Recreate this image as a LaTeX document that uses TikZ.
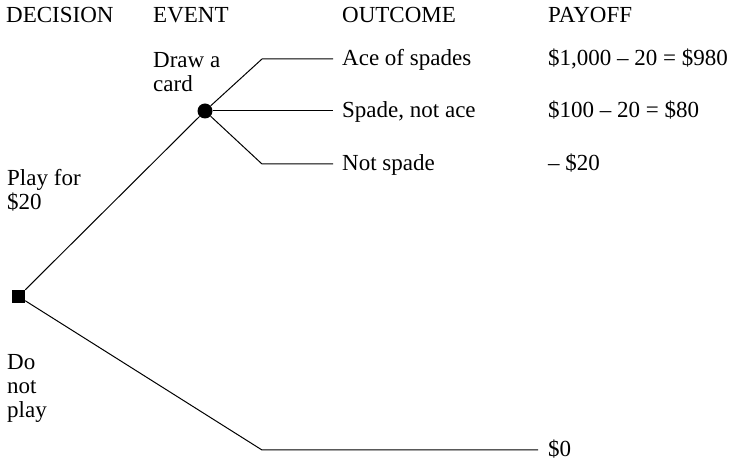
\documentclass[tikz,border=0pt]{standalone}
\usepackage{fontspec}
\setmainfont{Liberation Serif}
\usepackage{tikz}
\usetikzlibrary{calc}
\tikzset{
  txt/.style={font=\fontsize{23}{24}\selectfont,inner sep=0pt,anchor=base west},
  txtml/.style={font=\fontsize{23}{24}\selectfont,inner sep=0pt,anchor=north west,align=left},
  branch/.style={line width=1pt},
  decbox/.style={fill=black,minimum size=13pt,inner sep=0pt},
  chance/.style={circle,fill=black,minimum size=15pt,inner sep=0pt}
}

\begin{document}
\begin{tikzpicture}[x=1pt,y=-1pt]
\useasboundingbox (0,0) rectangle (740,462);
% column heads
\node[txt] (hdec) at (6,23) {DECISION};
\node[txt] (hevt) at (153,23) {EVENT};
\node[txt] (hout) at (342,23) {OUTCOME};
\node[txt] (hpay) at (548,23) {PAYOFF};
% nodes
\node[decbox] (dec) at (18.5,296.5) {};
\node[chance] (evt) at (205,111) {};
\node[txtml] (draw) at (153,52) {Draw a\\card};
\node[txtml] (play) at (7,169) {Play for\\\$20};
\node[txtml] (noplay) at (7,354) {Do\\not\\play};
% branch ends
\coordinate (aceK) at (262,59);   \coordinate (aceE) at (333,59);
\coordinate (spdE) at (333,111);
\coordinate (notK) at (262,164);  \coordinate (notE) at (333,164);
\coordinate (zeroK) at (262,450); \coordinate (zeroE) at (538,450);
\draw[branch] (dec) -- (evt);
\draw[branch] (evt) -- (aceK) -- (aceE);
\draw[branch] (evt) -- (spdE);
\draw[branch] (evt) -- (notK) -- (notE);
\draw[branch] (dec) -- (zeroK) -- (zeroE);
% outcomes and payoffs
\node[txt] (oace) at (342,66) {Ace of spades};
\node[txt] (pace) at (548,66) {\$1,000 – 20 = \$980};
\node[txt] (ospd) at (342,118) {Spade, not ace};
\node[txt] (pspd) at (548,118) {\$100 – 20 = \$80};
\node[txt] (onot) at (342,171) {Not spade};
\node[txt] (pnot) at (548,171) {– \$20};
\node[txt] (pzero) at (548,457) {\$0};
\end{tikzpicture}
\end{document}
